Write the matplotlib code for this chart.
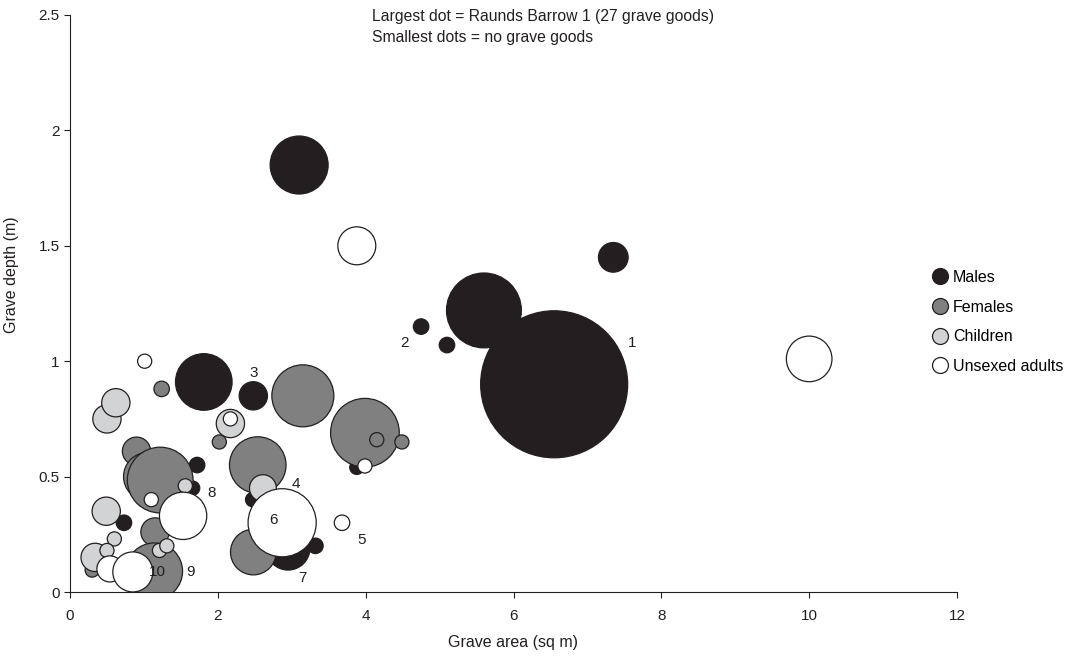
import numpy as np
import matplotlib.pyplot as plt
from matplotlib.lines import Line2D

plt.rcParams['font.family'] = ['Liberation Sans', 'DejaVu Sans']

# bubble values (area proportional to value, largest = 27)
males_x = [3.10, 7.35, 5.60, 6.55, 4.75, 5.10, 1.81, 2.48, 1.72, 1.66, 0.73, 2.47, 2.95, 3.32, 3.88]
males_y = [1.85, 1.45, 1.22, 0.90, 1.15, 1.07, 0.91, 0.85, 0.55, 0.45, 0.30, 0.40, 0.19, 0.20, 0.54]
males_v = [4.2, 1.1, 7.0, 27, 0.3, 0.3, 4.0, 1.0, 0.3, 0.25, 0.3, 0.25, 2.4, 0.3, 0.25]

females_x = [0.90, 1.05, 1.22, 1.24, 2.02, 3.15, 2.54, 3.99, 4.15, 4.49, 1.15, 2.48, 1.14, 0.30]
females_y = [0.61, 0.50, 0.485, 0.88, 0.65, 0.85, 0.55, 0.69, 0.66, 0.65, 0.26, 0.173, 0.09, 0.095]
females_v = [1.0, 2.9, 5.4, 0.3, 0.25, 4.8, 4.0, 5.9, 0.25, 0.25, 1.0, 2.6, 4.0, 0.25]

children_x = [0.50, 0.62, 2.17, 0.49, 0.60, 0.34, 0.50, 1.56, 1.21, 1.31, 2.61]
children_y = [0.75, 0.82, 0.73, 0.35, 0.23, 0.15, 0.18, 0.46, 0.18, 0.20, 0.45]
children_v = [1.0, 1.0, 1.0, 1.0, 0.25, 1.0, 0.25, 0.25, 0.25, 0.25, 0.9]

unsexed_x = [3.88, 10.0, 1.01, 2.17, 1.10, 1.53, 0.54, 0.85, 2.87, 3.68, 3.99]
unsexed_y = [1.50, 1.01, 1.00, 0.75, 0.40, 0.33, 0.10, 0.087, 0.30, 0.30, 0.546]
unsexed_v = [1.8, 2.6, 0.25, 0.25, 0.25, 2.8, 0.85, 2.0, 5.8, 0.3, 0.25]

# numbered graves
num_labels = ['1', '2', '3', '4', '5', '6', '7', '8', '9', '10']
num_x = [7.60, 4.53, 2.48, 3.06, 3.95, 2.75, 3.15, 1.92, 1.63, 1.18]
num_y = [1.08, 1.08, 0.95, 0.47, 0.225, 0.31, 0.06, 0.43, 0.087, 0.087]

series = [
    ('Males', males_x, males_y, males_v, '#231f20'),
    ('Females', females_x, females_y, females_v, '#808080'),
    ('Children', children_x, children_y, children_v, '#d1d3d4'),
    ('Unsexed adults', unsexed_x, unsexed_y, unsexed_v, 'white'),
]

fig = plt.figure(figsize=(10.75, 6.56), dpi=100)
ax = fig.add_axes([70/1075, 64/656, 887/1075, 577/656])

# largest bubble radius in px -> scatter size in pt^2
r_max = 73.5
s_unit = (2 * r_max * 0.72) ** 2 / 27

handles = []
for name, xs, ys, vs, col in series:
    ax.scatter(xs, ys, s=np.array(vs) * s_unit, c=col, edgecolors='#231f20',
               linewidths=0.9, zorder=3)
    handles.append(Line2D([], [], marker='o', linestyle='none', markersize=11.5,
                          markerfacecolor=col, markeredgecolor='#231f20',
                          markeredgewidth=0.9, label=name))

for t, x, y in zip(num_labels, num_x, num_y):
    ax.text(x, y, t, fontsize=11, ha='center', va='center', color='#231f20', zorder=4)

ax.set_xlim(0, 12)
ax.set_ylim(0, 2.5)
ax.set_xticks(range(0, 13, 2))
ax.set_yticks([0, 0.5, 1, 1.5, 2, 2.5])
ax.set_yticklabels(['0', '0.5', '1', '1.5', '2', '2.5'])
ax.tick_params(direction='out', length=4, width=0.8, colors='#231f20', labelsize=11)
ax.tick_params(axis='x', pad=8)
for sp in ['top', 'right']:
    ax.spines[sp].set_visible(False)
for sp in ['left', 'bottom']:
    ax.spines[sp].set_color('#231f20')
    ax.spines[sp].set_linewidth(0.8)

ax.set_xlabel('Grave area (sq m)', fontsize=11.5, color='#231f20')
ax.set_ylabel('Grave depth (m)', fontsize=11.5, color='#231f20')
ax.xaxis.set_label_coords(0.5, -0.075)
ax.yaxis.set_label_coords(-0.058, 0.55)

fig.text(372/1075, 1 - 9/656,
         'Largest dot = Raunds Barrow 1 (27 grave goods)\nSmallest dots = no grave goods',
         fontsize=11.3, va='top', ha='left', linespacing=1.5, color='#231f20')

ax.legend(handles=handles, loc='upper left', bbox_to_anchor=(924/1075, 1 - 262/656),
          bbox_transform=fig.transFigure, frameon=False, fontsize=11.5,
          handlelength=1.0, handletextpad=0.3, borderpad=0, labelspacing=0.92)

fig.savefig('out.png', dpi=100)
